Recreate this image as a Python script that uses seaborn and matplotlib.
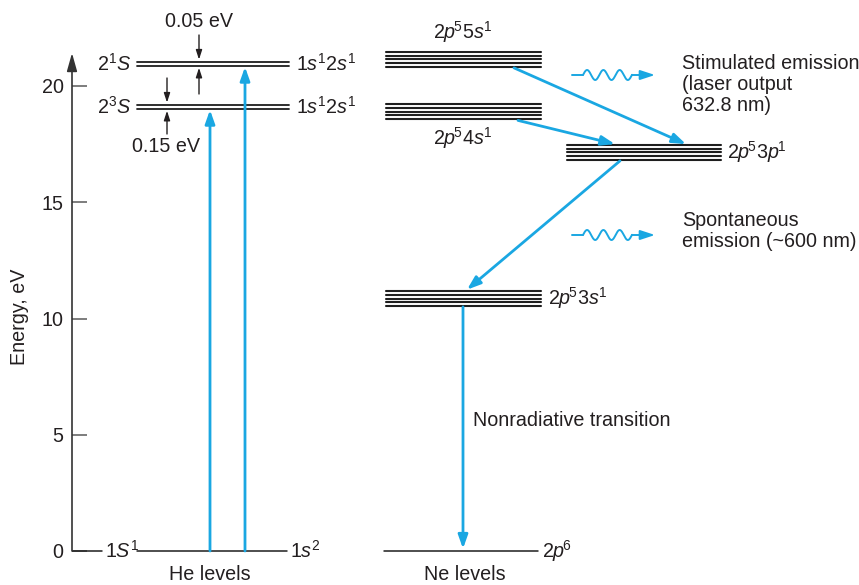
import numpy as np
import pandas as pd
import matplotlib
matplotlib.use("Agg")
import matplotlib.pyplot as plt
import seaborn as sns

# ---------------- data ----------------
yticks = [0, 5, 10, 15, 20]
he_levels = [r"$2^{1}\mathit{S}$", r"$2^{3}\mathit{S}$"]
he_configs = [r"$1\mathit{s}^{1}2\mathit{s}^{1}$", r"$1\mathit{s}^{1}2\mathit{s}^{1}$"]
he_energy = [20.95, 19.10]
he_ground_left = r"$1\mathit{S}^{1}$"
he_ground_right = r"$1\mathit{s}^{2}$"
ground_energy = 0.0
ne_levels = [r"$2\mathit{p}^{\!5}5\mathit{s}^{1}$", r"$2\mathit{p}^{\!5}4\mathit{s}^{1}$",
             r"$2\mathit{p}^{\!5}3\mathit{p}^{\!1}$", r"$2\mathit{p}^{\!5}3\mathit{s}^{1}$"]
ne_energy = [21.14, 18.90, 17.14, 10.86]
ne_ground = r"$2\mathit{p}^{\!6}$"
gap_labels = ["0.05 eV", "0.15 eV"]
group_labels = ["He levels", "Ne levels"]
ylabel = "Energy, eV"
notes = ["Stimulated emission\n(laser output\n632.8 nm)",
         "Spontaneous\nemission (~600 nm)",
         "Nonradiative transition"]

# ---------------- style / layout ----------------
sns.set_theme(style="white")
plt.rcParams["font.family"] = ["Liberation Sans", "DejaVu Sans"]
plt.rcParams["mathtext.fontset"] = "custom"
plt.rcParams["mathtext.rm"] = "Liberation Sans"
plt.rcParams["mathtext.it"] = "Liberation Sans:italic"
plt.rcParams["mathtext.bf"] = "Liberation Sans:bold"

TXT = "#231f20"
LINE = "#1e1e1e"
BLUE = "#1aa7e2"
AX = "#5a5a5a"
FS = 14.2

W, H = 859, 585
PX_PER_EV = 23.25
Y0 = 551


def ypx(py):
    return (Y0 - py) / PX_PER_EV


fig = plt.figure(figsize=(W / 100, H / 100), dpi=100)
ax = fig.add_axes([72 / W, 0, 1 - 72 / W, 1])
ax.set_xlim(72, W)
ax.set_ylim(ypx(H), ypx(0))
for s in ax.spines.values():
    s.set_visible(False)
ax.set_facecolor("white")
fig.patch.set_facecolor("white")
fig.text(20 / W, 1 - 317 / H, ylabel, rotation=90, ha="center", va="center",
         fontsize=FS, color=TXT)

# vertical axis with arrow head
ax.annotate("", xy=(72, ypx(53)), xytext=(72, 0),
            arrowprops=dict(arrowstyle="-|>,head_length=0.5,head_width=0.14",
                            color="#333333", lw=1.2, mutation_scale=22,
                            shrinkA=0, shrinkB=0),
            annotation_clip=False)

# ---------------- level lines via seaborn ----------------
he_x = (137, 289)
ne_x_left = (386, 541)
ne_x_right = (567, 721)
ne_xs = [ne_x_left, ne_x_left, ne_x_right, ne_x_left]
he_offsets = [+0.086, -0.086]
ne_offsets = np.array([-2, -1, 0, 1, 2]) * 0.158

rows = []
uid = 0
for e in he_energy:
    for off in he_offsets:
        for x in he_x:
            rows.append(dict(x=x, E=e + off, line=uid, kind="he"))
        uid += 1
for e, xs in zip(ne_energy, ne_xs):
    for off in ne_offsets:
        for x in xs:
            rows.append(dict(x=x, E=e + off, line=uid, kind="ne"))
        uid += 1
# ground levels
for xs in [(72, 102), (137, 287), (384, 538)]:
    for x in xs:
        rows.append(dict(x=x, E=ground_energy, line=uid, kind="ground"))
    uid += 1
levels = pd.DataFrame(rows)

sns.lineplot(data=levels[levels.kind == "he"], x="x", y="E", units="line",
             estimator=None, color=LINE, lw=1.3, ax=ax, legend=False)
sns.lineplot(data=levels[levels.kind == "ne"], x="x", y="E", units="line",
             estimator=None, color=LINE, lw=1.5, ax=ax, legend=False)
sns.lineplot(data=levels[levels.kind == "ground"], x="x", y="E", units="line",
             estimator=None, color=LINE, lw=1.1, ax=ax, legend=False)
ax.set_xlabel("")
ax.set_ylabel("")
ax.set_xticks([])
ax.set_yticks(yticks)
ax.set_yticklabels([str(t) for t in yticks])
ax.tick_params(axis="y", direction="in", length=11, width=1.1, color=AX,
               labelsize=FS, labelcolor=TXT, pad=6, left=True)

# ---------------- labels ----------------
for lab, cfg, e in zip(he_levels, he_configs, he_energy):
    ax.text(131, e, lab, ha="right", va="center", fontsize=FS, color=TXT)
    ax.text(296, e, cfg, ha="left", va="center", fontsize=FS, color=TXT)
ax.text(105, ground_energy, he_ground_left, ha="left", va="center", fontsize=FS, color=TXT)
ax.text(290, ground_energy, he_ground_right, ha="left", va="center", fontsize=FS, color=TXT)

ax.text(463, ypx(32), ne_levels[0], ha="center", va="center", fontsize=FS, color=TXT)
ax.text(463, ypx(138), ne_levels[1], ha="center", va="center", fontsize=FS, color=TXT)
ax.text(727, ne_energy[2], ne_levels[2], ha="left", va="center", fontsize=FS, color=TXT)
ax.text(548, ne_energy[3], ne_levels[3], ha="left", va="center", fontsize=FS, color=TXT)
ax.text(542, ground_energy, ne_ground, ha="left", va="center", fontsize=FS, color=TXT)

ax.text(210, ypx(575), group_labels[0], ha="center", va="center", fontsize=FS, color=TXT)
ax.text(465, ypx(575), group_labels[1], ha="center", va="center", fontsize=FS, color=TXT)

# energy-gap annotations (small black arrows)
small = dict(arrowstyle="-|>,head_length=0.4,head_width=0.13", color=TXT,
             lw=1.0, mutation_scale=14, shrinkA=0, shrinkB=0)
e_top = he_energy[0] + he_offsets[0]
e_bot = he_energy[0] + he_offsets[1]
ax.annotate("", xy=(199, e_top + 0.1), xytext=(199, ypx(35)), arrowprops=small)
ax.annotate("", xy=(199, e_bot - 0.08), xytext=(199, ypx(94)), arrowprops=small)
ax.text(199, ypx(22), gap_labels[0], ha="center", va="center", fontsize=FS, color=TXT)
e_top = he_energy[1] + he_offsets[0]
e_bot = he_energy[1] + he_offsets[1]
ax.annotate("", xy=(167, e_top + 0.1), xytext=(167, ypx(78)), arrowprops=small)
ax.annotate("", xy=(167, e_bot - 0.08), xytext=(167, ypx(134)), arrowprops=small)
ax.text(166, ypx(147), gap_labels[1], ha="center", va="center", fontsize=FS, color=TXT)

# ---------------- transitions (blue arrows) ----------------
blue = dict(arrowstyle="-|>,head_length=0.45,head_width=0.16", color=BLUE,
            lw=2.0, mutation_scale=18, shrinkA=0, shrinkB=0)
ax.annotate("", xy=(210, he_energy[1] - 0.13), xytext=(210, ground_energy), arrowprops=blue)
ax.annotate("", xy=(245, he_energy[0] - 0.13), xytext=(245, ground_energy), arrowprops=blue)
ax.annotate("", xy=(686, ne_energy[2] + 0.36), xytext=(514, ne_energy[0] - 0.36), arrowprops=blue)
ax.annotate("", xy=(615, ne_energy[2] + 0.36), xytext=(518, ne_energy[1] - 0.38), arrowprops=blue)
ax.annotate("", xy=(467, ne_energy[3] + 0.38), xytext=(620, ne_energy[2] - 0.36), arrowprops=blue)
ax.annotate("", xy=(463, ground_energy + 0.1), xytext=(463, ne_energy[3] - 0.36), arrowprops=blue)

# ---------------- wavy photon arrows ----------------
for py in (75, 235):
    yc = ypx(py)
    t = np.linspace(583, 632, 200)
    amp = 5.0 / PX_PER_EV
    wave = yc + amp * np.sin(2 * np.pi * (t - 583) / 16.3)
    ax.plot([572, 583], [yc, yc], color=BLUE, lw=1.4)
    ax.plot(t, wave, color=BLUE, lw=1.4)
    ax.annotate("", xy=(655, yc), xytext=(632, yc),
                arrowprops=dict(arrowstyle="-|>,head_length=0.55,head_width=0.18",
                                color=BLUE, lw=1.4, mutation_scale=16,
                                shrinkA=0, shrinkB=0))

ax.text(682, ypx(54), notes[0], ha="left", va="top", fontsize=FS, color=TXT,
        linespacing=1.15)
ax.text(682, ypx(211), notes[1], ha="left", va="top", fontsize=FS, color=TXT,
        linespacing=1.15)
ax.text(473, ypx(420), notes[2], ha="left", va="center", fontsize=FS, color=TXT)

fig.savefig("out.png", dpi=100, facecolor="white")
